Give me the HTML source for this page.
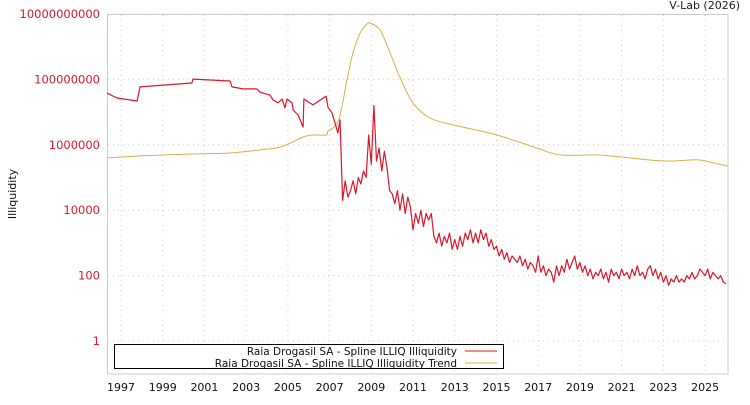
<!DOCTYPE html>
<html><head><meta charset="utf-8"><style>
body{margin:0;background:#fff}
svg text{font-family:"DejaVu Sans","Liberation Sans",sans-serif}
</style></head><body>
<svg id="chart" width="750" height="400">
<text x="740" y="9" font-size="11" text-anchor="end" fill="#222">V-Lab (2026)</text>
<text transform="translate(16,194) rotate(-90)" font-size="11" text-anchor="middle" fill="#111">Illiquidity</text>
<rect x="107.5" y="14.5" width="620.5" height="359.5" fill="none" stroke="#ccc"/>
<g id="grid"></g><g id="ticks"></g><g id="series"></g>
<g>
<rect x="114.5" y="344.5" width="389" height="24" fill="#fff" stroke="#000"/>
<text x="457" y="355" font-size="10.5" text-anchor="end" fill="#111">Raia Drogasil SA - Spline ILLIQ Illiquidity</text>
<line x1="465" y1="351" x2="497" y2="351" stroke="#d9182a"/>
<text x="457" y="367" font-size="10.5" text-anchor="end" fill="#111">Raia Drogasil SA - Spline ILLIQ Illiquidity Trend</text>
<line x1="465" y1="363" x2="497" y2="363" stroke="#d4b04a"/>
</g>
</svg>
<script>
const xTickYears=[1997,1999,2001,2003,2005,2007,2009,2011,2013,2015,2017,2019,2021,2023,2025];
const yTickExps=[0,2,4,6,8,10];
const yTickLabels=["1","100","10000","1000000","100000000","10000000000"];
// early, sparse section (log10 illiquidity)
const illiqYears=[1996.33,1996.81,1997.77,1997.91,2000.40,2000.45,2002.23,2002.32,2002.85,2003.52,2003.66,2004.14,2004.29,2004.53,2004.72,2004.86,2004.96,2005.20,2005.25,2005.49,2005.73,2005.77,2006.20,2006.83,2006.92,2007.12,2007.26,2007.40,2007.50];
const illiqLog=[7.58,7.43,7.34,7.77,7.89,8.01,7.95,7.77,7.71,7.71,7.61,7.52,7.37,7.28,7.40,7.13,7.40,7.28,7.06,6.91,6.54,7.40,7.22,7.49,7.16,6.97,6.67,6.36,6.76];
// weekly-ish section from 2007.625 in 0.125-year steps
const denseStart=2007.625, denseStep=0.125;
const denseLog=[4.3,4.9,4.4,
4.6,4.9,4.5,5.0,4.8,5.2,5.0,6.3,
5.4,7.2,5.5,5.9,5.2,5.8,5.3,4.6,
4.5,4.2,4.6,4.0,4.5,3.9,4.4,4.1,
3.4,3.9,3.6,4.0,3.5,3.9,3.7,3.9,
3.2,3.0,3.3,2.9,3.2,3.0,3.3,2.8,
3.1,2.8,3.2,2.9,3.3,3.1,3.4,3.0,
3.3,3.0,3.4,3.1,3.3,2.9,3.1,2.8,
2.9,2.6,2.8,2.5,2.7,2.4,2.6,2.5,
2.4,2.6,2.3,2.5,2.2,2.4,2.3,2.1,
2.6,2.1,2.3,2.0,2.2,2.1,1.8,2.3,
2.0,2.3,2.1,2.5,2.2,2.4,2.6,2.2,
2.4,2.1,2.3,2.0,2.2,1.9,2.1,2.0,
2.2,1.9,2.1,1.8,2.2,2.0,2.1,1.9,
2.2,2.0,2.1,1.9,2.2,2.0,2.3,2.0,
2.1,1.9,2.2,2.3,2.0,2.2,1.9,2.1,
1.8,2.0,1.7,1.9,1.8,2.0,1.8,1.9,
1.8,2.0,1.9,2.1,1.9,2.0,2.2,2.1,
2.0,2.2,1.9,2.1,2.0,1.9,2.0,1.8,
1.75];
const trendYears=[1996.33,1997.91,2000.40,2002.23,2004.00,2004.62,2005.10,2005.73,2006.20,2006.83,2006.92,2007.16,2007.40,2007.59,2007.83,2008.12,2008.46,2008.79,2008.94,2009.42,2009.90,2010.37,2011.00,2011.81,2012.92,2015.02,2016.94,2018.05,2019.82,2020.92,2022.22,2023.32,2024.61,2025.24,2026.10];
const trendLog=[5.60,5.66,5.72,5.75,5.87,5.93,6.05,6.24,6.30,6.30,6.42,6.51,6.70,7.16,7.98,8.81,9.42,9.69,9.72,9.51,8.81,8.07,7.28,6.82,6.61,6.30,5.90,5.69,5.69,5.63,5.54,5.50,5.54,5.47,5.35];

const NS='http://www.w3.org/2000/svg';
const X=y=>121+(y-1997)*20.86;
const Y=e=>341-e*32.7;
function mk(tag,attrs,parent){const el=document.createElementNS(NS,tag);for(const k in attrs)el.setAttribute(k,attrs[k]);parent.appendChild(el);return el;}
const grid=document.getElementById('grid'),ticks=document.getElementById('ticks'),series=document.getElementById('series');
xTickYears.forEach(yr=>{
  const l=mk('line',{x1:X(yr),x2:X(yr),y1:15,y2:374,stroke:'#ccc','stroke-dasharray':'1,4'},grid);
  
  
  const t=mk('text',{x:X(yr),y:391,'font-size':11,'text-anchor':'middle',fill:'#111'},ticks);
  t.textContent=yr;
  
  
});
yTickExps.forEach((e,i)=>{
  const l=mk('line',{x1:108,x2:728,y1:Y(e),y2:Y(e),stroke:'#ccc','stroke-dasharray':'1,4'},grid);
  
  
  const t=mk('text',{x:100,y:Y(e)+4,'font-size':11.5,'text-anchor':'end',fill:'#d9182a'},ticks);
  t.textContent=yTickLabels[i];
  
  
});
// smooth trend via Catmull-Rom
const tpts=trendYears.map((y,i)=>[X(y),Y(trendLog[i])]);
let d='M'+tpts[0][0]+','+tpts[0][1];
for(let i=0;i<tpts.length-1;i++){
  const p0=tpts[Math.max(0,i-1)],p1=tpts[i],p2=tpts[i+1],p3=tpts[Math.min(tpts.length-1,i+2)];
  const c1=[p1[0]+(p2[0]-p0[0])/6,p1[1]+(p2[1]-p0[1])/6],c2=[p2[0]-(p3[0]-p1[0])/6,p2[1]-(p3[1]-p1[1])/6];
  d+=' C'+c1[0].toFixed(1)+','+c1[1].toFixed(1)+' '+c2[0].toFixed(1)+','+c2[1].toFixed(1)+' '+p2[0].toFixed(1)+','+p2[1].toFixed(1);
}
const tp=mk('path',{d:d,fill:'none',stroke:'#d4b04a','stroke-width':1},series);


const allYears=illiqYears.concat(denseLog.map((v,i)=>denseStart+i*denseStep));
const allLog=illiqLog.concat(denseLog);
const ip=mk('polyline',{points:allYears.map((y,i)=>X(y).toFixed(1)+','+Y(allLog[i]).toFixed(1)).join(' '),fill:'none',stroke:'#d9182a','stroke-width':1.2,'stroke-linejoin':'round'},series);


</script>
</body></html>
